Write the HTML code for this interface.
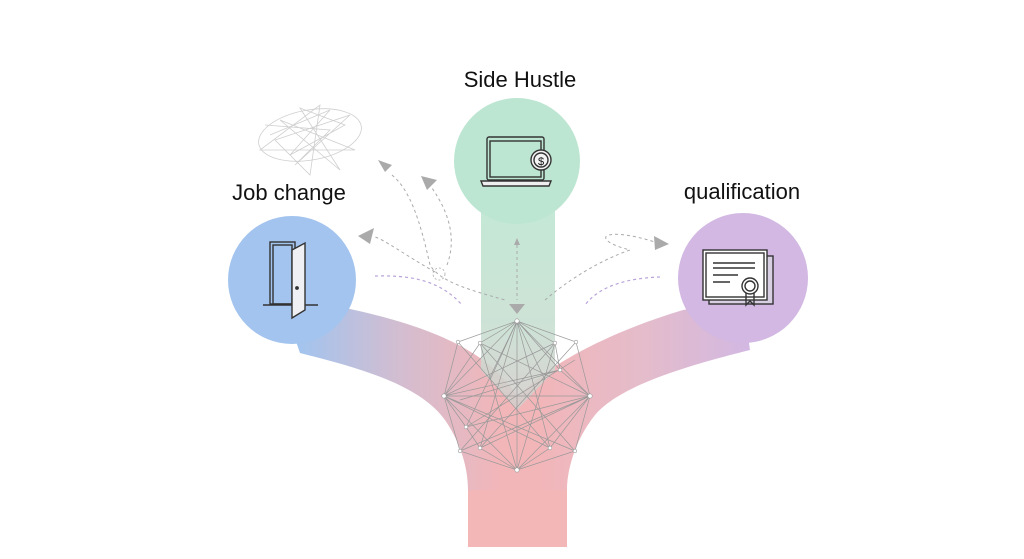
<!DOCTYPE html>
<html><head><style>
html,body{margin:0;padding:0;background:#fff;}
svg{display:block;}
text{font-family:"Liberation Sans",sans-serif;fill:#111;}
</style></head><body>
<svg width="1024" height="559" viewBox="0 0 1024 559" xmlns="http://www.w3.org/2000/svg">
<defs>
<linearGradient id="gl" x1="300" y1="0" x2="500" y2="0" gradientUnits="userSpaceOnUse">
<stop offset="0" stop-color="#a3c4ee"/><stop offset="0.5" stop-color="#d3bdd0"/><stop offset="1" stop-color="#f2b6b9"/>
</linearGradient>
<linearGradient id="gr" x1="750" y1="0" x2="540" y2="0" gradientUnits="userSpaceOnUse">
<stop offset="0" stop-color="#d2b8e2"/><stop offset="0.5" stop-color="#e4bccb"/><stop offset="1" stop-color="#f2b6b9"/>
</linearGradient>
<linearGradient id="gg" x1="0" y1="0" x2="0" y2="1">
<stop offset="0" stop-color="#bde6d2"/><stop offset="0.6" stop-color="#c8dfd2"/><stop offset="1" stop-color="#d5cccb"/>
</linearGradient>
</defs>
<!-- trunk -->
<rect x="468" y="460" width="99" height="87" fill="#f3b7b8"/>
<!-- left branch -->
<path d="M292,330 L300,353 C360,368 420,385 445,420 C462,445 468,470 468,490 L520,490 L520,400 C500,370 470,335 350,309 L300,300 Z" fill="url(#gl)"/>
<!-- right branch -->
<path d="M743,300 L750,350 C690,365 620,385 595,415 C575,440 567,470 567,490 L515,490 L515,400 C540,370 600,335 683,310 Z" fill="url(#gr)"/>
<circle cx="292" cy="280" r="64" fill="#a3c4ee"/>
<circle cx="743" cy="278" r="65" fill="#d2b8e2"/>
<!-- green stem -->
<path d="M481,200 L555,200 L555,370 L517,410 L481,370 Z" fill="url(#gg)" opacity="0.9"/>
<circle cx="517" cy="161" r="63" fill="#bde6d2"/>
<!-- labels -->
<text x="520" y="87" font-size="22" text-anchor="middle">Side Hustle</text>
<text x="289" y="200" font-size="22" text-anchor="middle">Job change</text>
<text x="742" y="199" font-size="22" text-anchor="middle">qualification</text>
<!-- scribble -->
<g fill="none" stroke="#cfcfcf" stroke-width="0.8">
<path d="M270,135 L330,110 L290,155 L345,125 L300,108 L340,170 L280,120 L355,150 L260,150 L320,105 L310,175 L275,140 L350,115 L295,165 L330,130 L265,125"/>
<ellipse cx="310" cy="135" rx="52" ry="25" transform="rotate(-10 310 135)"/>
</g>
<!-- dashed arrows -->
<g fill="none" stroke="#aaa" stroke-width="1" stroke-dasharray="3,3">
<path d="M435,272 C405,255 385,240 375,237"/>
<path d="M392,175 C410,190 420,220 430,265 C440,282 470,290 505,300"/>
<path d="M447,265 C460,230 440,200 432,188"/>
<path d="M517,245 L517,300"/>
<path d="M545,300 C580,270 615,255 630,250 C590,240 600,225 655,242"/>
</g>
<g fill="none" stroke="#b9a3d9" stroke-width="1.2" stroke-dasharray="3,3">
<path d="M375,276 C410,275 440,280 462,305"/>
<path d="M660,277 C630,278 600,285 585,305"/>
</g>
<g fill="#aaa">
<polygon points="378,160 392,165 385,172"/>
<polygon points="421,176 437,180 427,190"/>
<polygon points="358,236 374,228 370,244"/>
<polygon points="669,244 654,236 655,250"/>
<polygon points="509,304 525,304 517,314"/>
<polygon points="514,245 520,245 517,238"/>
</g>
<circle cx="439" cy="274" r="6" fill="none" stroke="#aaa" stroke-width="0.8" stroke-dasharray="2,2"/>
<!-- network -->
<g stroke="#999" stroke-width="0.7" fill="none">
<path d="M517,321 L458,342 L444,396 L460,451 L517,470 L575,451 L590,396 L576,342 Z"/>
<path d="M517,321 L480,343 L444,396 L466,427 L480,448 L517,470 L550,448 L590,396 L560,370 L555,343 Z"/>
<path d="M517,321 L444,396 M517,321 L590,396 M517,321 L480,448 M517,321 L550,448 M517,321 L517,470 M517,321 L466,427 M517,321 L560,370 M517,321 L490,380 M517,321 L545,380"/>
<path d="M444,396 L590,396 M444,396 L555,343 M444,396 L550,448 M444,396 L575,451 M444,396 L560,370 M590,396 L480,343 M590,396 L480,448 M590,396 L466,427 M590,396 L460,451"/>
<path d="M517,470 L480,343 M517,470 L555,343 M517,470 L444,396 M517,470 L590,396 M480,343 L575,451 M555,343 L460,451 M458,342 L550,448 M576,342 L480,448 M466,427 L575,360 M560,370 L460,400"/>
</g>
<g fill="#fff" stroke="#999" stroke-width="0.6">
<circle cx="517" cy="321" r="2.2"/><circle cx="517" cy="470" r="2.2"/><circle cx="444" cy="396" r="2.2"/><circle cx="590" cy="396" r="2.2"/>
<circle cx="458" cy="342" r="1.8"/><circle cx="576" cy="342" r="1.8"/><circle cx="460" cy="451" r="1.8"/><circle cx="575" cy="451" r="1.8"/>
<circle cx="480" cy="343" r="1.8"/><circle cx="555" cy="343" r="1.8"/><circle cx="480" cy="448" r="1.8"/><circle cx="550" cy="448" r="1.8"/><circle cx="466" cy="427" r="1.8"/><circle cx="560" cy="370" r="1.8"/>
</g>
<!-- door icon -->
<g fill="none" stroke="#333" stroke-width="1.4">
<path d="M263,305 L318,305"/>
<rect x="270" y="242" width="25" height="62" fill="#a3c4ee"/>
<rect x="273" y="245" width="19" height="59"/>
<path d="M292,250 L305,243 L305,310 L292,318 Z" fill="#eef0f3"/>
<circle cx="297" cy="288" r="1.2" fill="#333"/>
</g>
<!-- laptop -->
<g fill="none" stroke="#333" stroke-width="1.4">
<rect x="487" y="137" width="57" height="43" rx="2" fill="#bde6d2"/>
<rect x="490" y="141" width="51" height="36"/>
<path d="M481,181 L551,181 L549,186 L483,186 Z" fill="#eee"/>
<circle cx="541" cy="160" r="10" fill="#f3f3f3"/>
<circle cx="541" cy="160" r="7"/>
<text x="541" y="165" font-size="11" text-anchor="middle" stroke="none" fill="#333">$</text>
</g>
<!-- certificate -->
<g fill="none" stroke="#333" stroke-width="1.4">
<rect x="709" y="256" width="64" height="48" fill="#d8cfe3"/>
<rect x="703" y="250" width="64" height="50" fill="#fff"/>
<rect x="706" y="253" width="58" height="44"/>
<path d="M713,263 L755,263 M713,268 L755,268 M713,275 L738,275 M713,282 L730,282"/>
<path d="M746,292 L746,305 L750,301 L754,305 L754,292"/>
<circle cx="750" cy="286" r="8" fill="#fff"/><circle cx="750" cy="286" r="5"/>
</g>
</svg>
</body></html>
